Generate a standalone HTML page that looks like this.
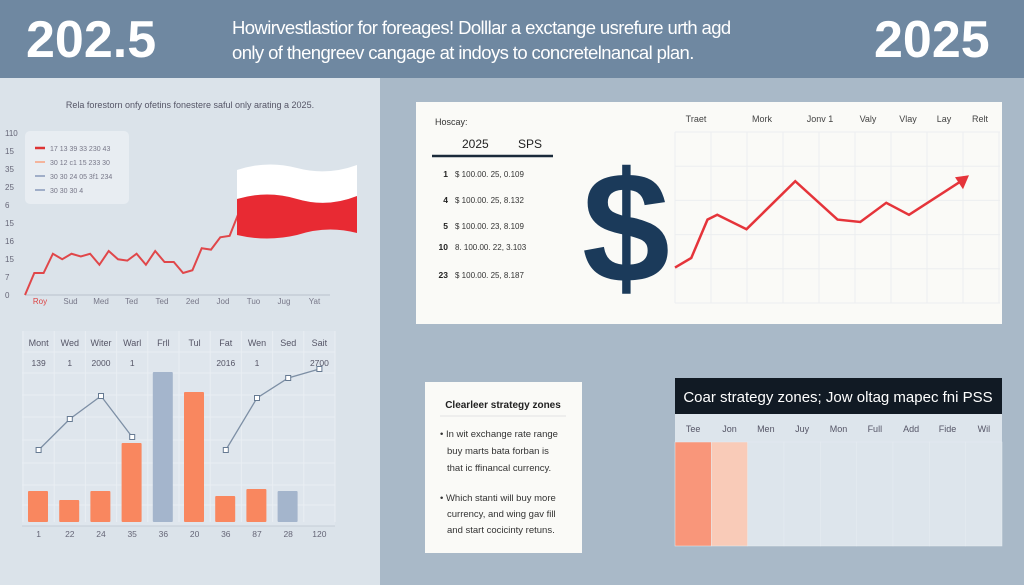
<!DOCTYPE html>
<html><head><meta charset="utf-8"><style>
body{margin:0;width:1024px;height:585px;overflow:hidden;background:#a9b9c8;font-family:"Liberation Sans",sans-serif;position:relative}
.abs{position:absolute}
</style></head><body>
<div class="abs" style="left:0;top:0;width:1024px;height:78px;background:#6f88a1"></div>
<div class="abs" style="left:26px;top:10px;color:#fff;font-weight:bold;font-size:52px">202.5</div>
<div class="abs" style="left:232px;top:15px;color:#fff;font-size:18.5px;line-height:25px;letter-spacing:-0.6px">Howirvestlastior for foreages! Dolllar a exctange usrefure urth agd<br>only of thengreev cangage at indoys to concretelnancal plan.</div>
<div class="abs" style="left:874px;top:10px;color:#fff;font-weight:bold;font-size:52px">2025</div>
<div class="abs" style="left:0;top:78px;width:380px;height:507px;background:#dbe3ea"></div>
<div class="abs" style="left:416px;top:102px;width:586px;height:222px;background:#fafaf7"></div>
<div class="abs" style="left:425px;top:382px;width:157px;height:171px;background:#fafaf7"></div>
<svg class="abs" style="left:0;top:0" width="1024" height="585" id="s"></svg>
<script>
const NS="http://www.w3.org/2000/svg";const s=document.getElementById('s');
function el(t,a,txt){const e=document.createElementNS(NS,t);for(const k in a)e.setAttribute(k,a[k]);if(txt!=null)e.textContent=txt;s.appendChild(e);return e;}
// ---- chart 1 data
const c1Values=[0,8,8,15,13,15,14,15,11,16,13,12.5,15,11,16,12,12,8,9,17,16.5,21,21.5,30];
const c1Ticks=["110","15","35","25","6","15","16","15","7","0"];
const c1XLabels=["Roy","Sud","Med","Ted","Ted","2ed","Jod","Tuo","Jug","Yat"];
const c1Legend=["17 13 39 33 230 43","30 12 c1 15 233 30","30 30 24 05 3f1 234","30 30 30 4"];
// ---- chart 2 data
const c2Cats=["Mont","Wed","Witer","Warl","Frll","Tul","Fat","Wen","Sed","Sait"];
const c2Row=["139","1","2000","1","","","2016","1","","2700"];
const c2Bars=[31,22,31,79,150,130,26,33,31,null];
const c2BarBlue=[0,0,0,0,1,0,0,0,1,0];
const c2Bottom=["1","22","24","35","36","20","36","87","28","120"];
const c2LineA=[72,103,126,85];
const c2LineB=[72,124,144,153];
// ---- chart 3 data
const c3Values=[3,5,13,14,11,21,13,12.5,16.5,14,21];
const c3Pos=[0,0.05,0.1,0.13,0.22,0.37,0.5,0.57,0.65,0.72,0.88];
const c3Labels=["Traet","Mork","Jonv 1","Valy","Vlay","Lay","Relt"];
const tblRows=[["1","$  100.00. 25, 0.109"],["4","$  100.00. 25, 8.132"],["5","$  100.00. 23, 8.109"],["10","8.  100.00. 22, 3.103"],["23","$  100.00. 25, 8.187"]];
// ---- heatmap data
const hmCols=["Tee","Jon","Men","Juy","Mon","Full","Add","Fide","Wil"];
const hmVals=[1,0.45,0,0,0,0,0,0,0];

// chart 1
el('text',{x:190,y:108,'font-size':9,fill:'#556','text-anchor':'middle'},"Rela forestorn onfy ofetins fonestere saful only arating a 2025.");
const y1=v=>295-v*2.75, x1=i=>25+i*9.3;
c1Ticks.forEach((t,i)=>{const e=el('text',{x:5,y:136+i*18,'font-size':8,fill:'#667'},t);});
el('line',{x1:25,y1:295,x2:330,y2:295,stroke:'#b8c2cc'});
c1XLabels.forEach((t,i)=>{const e=el('text',{x:40+i*30.5,y:304,'font-size':8,fill:i?'#778':'#d44','text-anchor':'middle'},t);});
el('rect',{x:25,y:131,width:104,height:73,rx:5,fill:'#e8edf2'});
const lc=['#d33','#f9a080','#8899bb','#8899bb'];
c1Legend.forEach((t,i)=>{el('line',{x1:35,y1:148+i*14,x2:45,y2:148+i*14,stroke:lc[i],'stroke-width':i?1.5:2.5});const e=el('text',{x:50,y:151+i*14,'font-size':7,fill:'#778'},t);});
const p1=el('polyline',{points:c1Values.map((v,i)=>x1(i)+','+y1(v)).join(' '),fill:'none',stroke:'#e0474a','stroke-width':2});

el('path',{d:'M237 170 Q267 160 297 168 Q327 176 357 165 L357 196 Q327 208 297 199 Q267 190 237 199Z',fill:'#fff'});
el('path',{d:'M237 199 Q267 190 297 199 Q327 208 357 196 L357 233 Q327 225 297 235 Q267 242 237 235Z',fill:'#e82a33'});

// chart 2
el('rect',{x:22,y:331,width:313,height:195,fill:'#dfe6ed'});
const cw=31.2,x2=i=>23+i*cw,y2=v=>522-v;
for(let i=0;i<=10;i++)el('line',{x1:x2(i),y1:331,x2:x2(i),y2:522,stroke:'#e9eef3'});
[352,373,395,417,440,463,485,505].forEach(y=>el('line',{x1:22,y1:y,x2:335,y2:y,stroke:'#e9eef3'}));
el('line',{x1:22,y1:526,x2:335,y2:526,stroke:'#c5ced7'});
c2Cats.forEach((t,i)=>{const e=el('text',{x:x2(i)+cw/2,y:346,'font-size':9,fill:'#556','text-anchor':'middle'},t);});
c2Row.forEach((t,i)=>el('text',{x:x2(i)+cw/2,y:366,'font-size':8.5,fill:'#556','text-anchor':'middle'},t));
c2Bars.forEach((v,i)=>{if(v==null)return;const r=el('rect',{x:x2(i)+5,y:y2(v),width:20,height:v,fill:c2BarBlue[i]?'#a4b5cc':'#f9875f',rx:1});});
c2Bottom.forEach((t,i)=>el('text',{x:x2(i)+cw/2,y:537,'font-size':8.5,fill:'#667','text-anchor':'middle'},t));
function ln(vals,start,name){const pts=vals.map((v,k)=>[x2(start+k)+cw/2,y2(v)]);const p=el('polyline',{points:pts.map(p=>p.join(',')).join(' '),fill:'none',stroke:'#7d8fa5','stroke-width':1.3});pts.forEach(q=>el('rect',{x:q[0]-2.5,y:q[1]-2.5,width:5,height:5,fill:'#fff',stroke:'#667a92'}));}
ln(c2LineA,0,'line-a');ln(c2LineB,6,'line-b');

// table
el('text',{x:435,y:125,'font-size':9,fill:'#333'},"Hoscay:");
el('text',{x:462,y:148,'font-size':12,fill:'#222'},"2025");el('text',{x:518,y:148,'font-size':12,fill:'#222'},"SPS");
el('line',{x1:432,y1:156,x2:553,y2:156,stroke:'#1a2a3a','stroke-width':2.5});
[177,203,229,250,278].forEach((y,i)=>{el('text',{x:448,y:y,'font-size':8.5,'font-weight':'bold',fill:'#222','text-anchor':'end'},tblRows[i][0]);el('text',{x:455,y:y,'font-size':8,fill:'#333'},tblRows[i][1]);});
// chart 3
const X0=675,X1=1000,Y0=132,Y1=303;
for(let i=0;i<=9;i++)el('line',{x1:X0+i*36,y1:Y0,x2:X0+i*36,y2:Y1,stroke:'#eceef0'});
for(let j=0;j<=5;j++)el('line',{x1:X0,y1:Y0+j*34.2,x2:X1,y2:Y0+j*34.2,stroke:'#eceef0'});
const dl=el('text',{x:626,y:282,'font-size':158,'font-weight':'bold',fill:'#1b3a5a','text-anchor':'middle','font-family':'Liberation Sans'},"$");

const x3=p=>X0+p*325,y3=v=>282-v*4.8;
c3Labels.forEach((t,i)=>el('text',{x:[696,762,820,868,908,944,980][i],y:122,'font-size':9,fill:'#444','text-anchor':'middle'},t));
const p3=el('polyline',{points:c3Values.map((v,i)=>x3(c3Pos[i])+','+y3(v)).join(' '),fill:'none',stroke:'#e5343a','stroke-width':2.5});

const lx=x3(c3Pos[10]),ly=y3(c3Values[10]);
el('polygon',{points:`${lx+8},${ly-6} ${lx-6},${ly-4} ${lx+2},${ly+8}`,fill:'#e5343a'});

// strategy text
el('text',{x:503,y:408,'font-size':10,'font-weight':'bold',fill:'#222','text-anchor':'middle'},"Clearleer strategy zones");
el('line',{x1:440,y1:416,x2:566,y2:416,stroke:'#e3e3e3'});
[["• In wit exchange rate range",440,437],["buy marts bata forban is",447,454],["that ic ffinancal currency.",447,471],["• Which stanti will buy more",440,501],["currency, and wing gav fill",447,517],["and start cocicinty retuns.",447,533]].forEach(a=>el('text',{x:a[1],y:a[2],'font-size':9.5,fill:'#333'},a[0]));

// heatmap
el('rect',{x:675,y:378,width:327,height:36,fill:'#111a24'});
el('text',{x:838,y:402,'font-size':15,fill:'#fff','text-anchor':'middle'},"Coar strategy zones; Jow oltag mapec fni PSS");
el('rect',{x:675,y:414,width:327,height:132,fill:'#dde5ec'});
const hw=327/9;
hmCols.forEach((t,i)=>{el('text',{x:675+i*hw+hw/2,y:432,'font-size':9,fill:'#556','text-anchor':'middle'},t);
 const c=el('rect',{x:675+i*hw,y:442,width:hw,height:104,fill:hmVals[i]>=1?'#f9967a':hmVals[i]>0.3?'#f9cbb8':'#dde5ec',stroke:'#e6ecf1','stroke-width':0.5});
 });
</script>
</body></html>
